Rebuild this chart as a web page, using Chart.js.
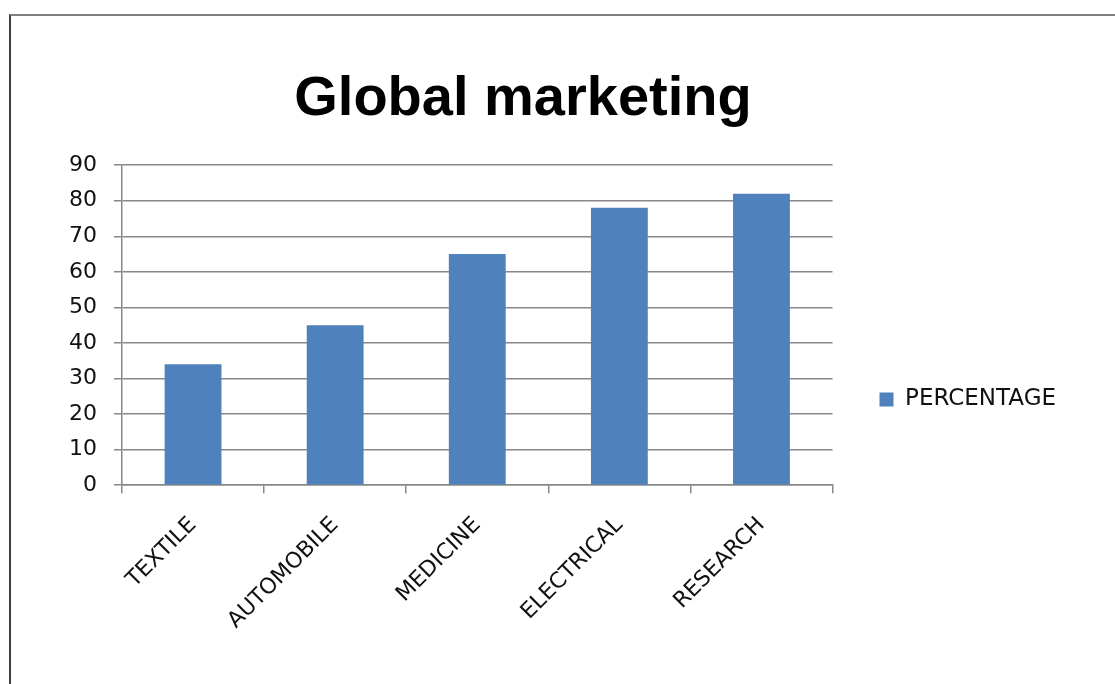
<!DOCTYPE html>
<html>
<head>
<meta charset="utf-8">
<title>Global marketing</title>
<script src="https://cdn.jsdelivr.net/npm/chart.js@4.4.1/dist/chart.umd.min.js"></script>
<style>
    html, body { margin: 0; padding: 0; background: #fff; overflow: hidden; }
    body { width: 1115px; height: 684px; position: relative; }
    /* canvas starts a little left of the window so the centered title sits off-center like the original */
    #chartBox { position: absolute; left: -20px; top: 0; width: 1135px; height: 684px; }
    #frame {
        position: absolute; left: 9px; top: 14px; width: 1200px; height: 700px;
        border-top: 2px solid #808080; border-left: 2px solid #404040;
        pointer-events: none;
    }
</style>
</head>
<body>
<div id="chartBox"><canvas id="marketChart" width="1135" height="684"></canvas></div>
<div id="frame"></div>

<script>
// ========== DATA ==========
const categories = ['TEXTILE', 'AUTOMOBILE', 'MEDICINE', 'ELECTRICAL', 'RESEARCH'];
const percentage = [34, 45, 65, 78, 82];
const yTicks = [0, 10, 20, 30, 40, 50, 60, 70, 80, 90];

const gridColor = '#888888';
const textColor = '#111111';
const labelFont = { family: 'DejaVu Sans', size: 22 };

// ========== CHART ==========
const ctx = document.getElementById('marketChart').getContext('2d');
new Chart(ctx, {
    type: 'bar',
    data: {
        labels: categories,
        datasets: [{
            label: 'PERCENTAGE',
            data: percentage,
            backgroundColor: '#4F81BD',
            barPercentage: 0.4,
            categoryPercentage: 1.0
        }]
    },
    options: {
        responsive: false,
        animation: false,
        layout: { padding: { left: 0, right: 49, top: 0, bottom: 31 } },
        plugins: {
            title: {
                display: true,
                text: 'Global marketing',
                color: '#000',
                font: { family: 'Liberation Sans', size: 56, weight: 'bold' },
                padding: { top: 66, bottom: 32 }
            },
            legend: {
                position: 'right',
                align: 'center',
                // empty title only pushes the single item down to where it sits in the original
                title: { display: true, text: ' ', font: { size: 10 }, padding: { top: 134, bottom: 0 } },
                labels: {
                    color: textColor,
                    font: { family: 'DejaVu Sans', size: 23 },
                    boxWidth: 14,
                    boxHeight: 14,
                    padding: 47
                }
            },
            tooltip: { enabled: false }
        },
        scales: {
            y: {
                min: 0,
                max: 90,
                afterBuildTicks: axis => { axis.ticks = yTicks.map(v => ({ value: v })); },
                afterFit: axis => { axis.width = 142; },
                ticks: { color: textColor, font: labelFont, padding: 17 },
                grid: { color: gridColor, lineWidth: 1.5, tickLength: 8 },
                border: { color: gridColor, width: 1.5 }
            },
            x: {
                ticks: { color: textColor, font: labelFont, minRotation: 45, maxRotation: 45, padding: 19 },
                grid: { drawOnChartArea: false, offset: true, color: gridColor, lineWidth: 1.5, tickLength: 8 },
                border: { color: gridColor, width: 1.5 }
            }
        }
    }
});
</script>
</body>
</html>
